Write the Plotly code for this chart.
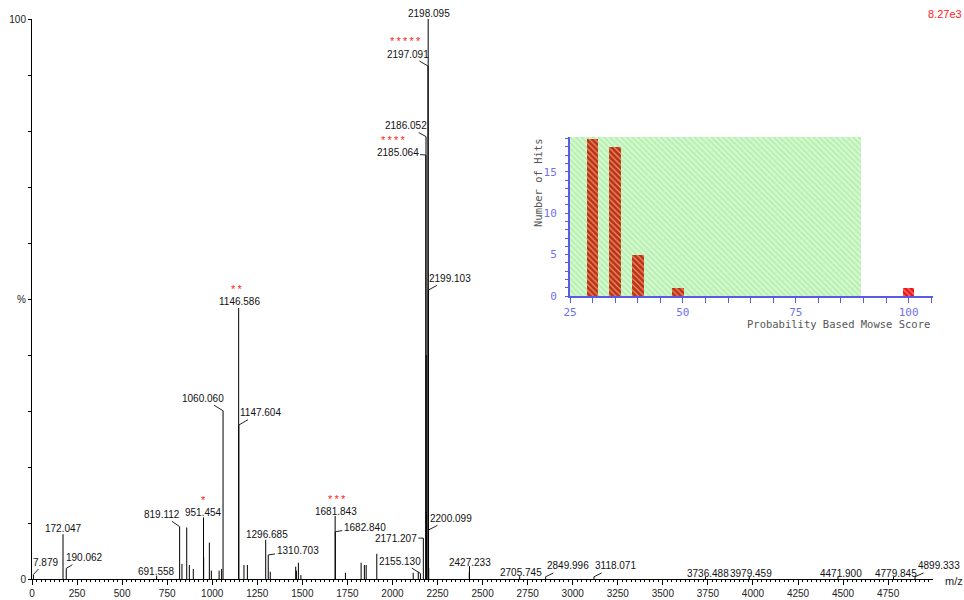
import plotly.graph_objects as go

# ---------------- main spectrum data (m/z, relative intensity %) ----------------
peak_mz = [7.879, 172.047, 190.062, 691.558, 819.112, 832.0, 858.5, 873.0, 895.0,
           951.454, 952.45, 984.0, 995.0, 1038.0, 1052.0, 1060.060,
           1146.586, 1147.604, 1176.0, 1195.0, 1296.685, 1310.703, 1322.0,
           1463.0, 1467.0, 1478.0, 1492.0, 1681.843, 1682.840, 1739.0,
           1826.0, 1844.0, 1854.0, 1913.0, 2115.0, 2143.0, 2155.130, 2171.207,
           2185.064, 2186.052, 2187.05, 2188.06, 2197.091, 2198.095, 2199.103,
           2200.099, 2201.1, 2426.2, 2427.233, 2705.745, 2849.996, 3118.071,
           3736.488, 3979.459, 4471.900, 4779.845, 4899.333]
peak_int = [0.8, 8.0, 1.9, 0.6, 9.35, 2.7, 9.2, 2.5, 1.8,
            11.0, 3.9, 6.5, 1.5, 1.5, 1.8, 30.05,
            48.4, 27.5, 2.5, 2.5, 7.0, 4.3, 1.3,
            2.2, 1.5, 2.9, 0.7, 11.25, 8.45, 1.1,
            2.9, 2.5, 2.5, 4.5, 1.1, 1.3, 1.0, 7.3,
            75.7, 79.0, 40.0, 12.0, 91.6, 100.0, 51.6,
            8.75, 2.0, 1.2, 2.3, 0.5, 0.4, 0.4,
            0.4, 0.4, 0.4, 0.4, 0.4]

# labelled peaks
label_mz = [7.879, 172.047, 190.062, 691.558, 819.112, 951.454, 1060.060, 1146.586,
            1147.604, 1296.685, 1310.703, 1681.843, 1682.840, 2155.130, 2171.207,
            2185.064, 2186.052, 2197.091, 2198.095, 2199.103, 2200.099, 2427.233,
            2705.745, 2849.996, 3118.071, 3736.488, 3979.459, 4471.900, 4779.845,
            4899.333]
# matched-peptide marks
star_mz = [951.454, 1146.586, 1681.843, 2185.064, 2197.091]
star_count = [1, 2, 3, 4, 5]
base_peak_counts = "8.27e3"

# y tick labels
y_tickvals = [0, 10, 20, 30, 40, 50, 60, 70, 80, 90, 100]
y_ticktext = ["0", "", "", "", "", "%", "", "", "", "", "100"]

# ---------------- inset histogram data ----------------
score_bins = [30, 35, 40, 49, 100]
hits = [19, 18, 5, 1, 1]
insig_limit = [25, 89.5]     # shaded (non-significant) score range
inset_ymax = 19.2
inset_ticks = [25, 30, 35, 40, 45, 50, 55, 60, 65, 70, 75, 80, 85, 90, 95, 100, 105]
inset_ticktext = ["25", "", "", "", "", "50", "", "", "", "", "75", "", "", "", "", "100", ""]
inset_yticks = list(range(0, 20))
inset_yticktext = [str(v) if v % 5 == 0 else "" for v in inset_yticks]

# ---------------- style: label offsets (px) ----------------
label_style = {
    7.879: (11.6, -12.5, True), 172.047: (0, -6, False), 190.062: (18, -10.6, True),
    691.558: (0, -4.6, False), 819.112: (-17.9, -12.4, True), 951.454: (0, -5, False),
    1060.060: (-20.5, -12.4, True), 1146.586: (0.4, -6.3, False),
    1147.604: (21.2, -12.3, True), 1296.685: (1, -5.7, False),
    1310.703: (29.3, -4, True), 1681.843: (0.7, -4.3, False),
    1682.840: (29.4, -4.4, True), 2155.130: (-20, -12.3, True),
    2171.207: (-27.5, 0, True), 2185.064: (-28.2, -2.7, True),
    2186.052: (-20, -11, True), 2197.091: (-20.4, -12, True),
    2198.095: (1, -6, False), 2199.103: (21.7, -11.7, True),
    2200.099: (22.3, -11.7, True), 2427.233: (1, -3.3, False),
    2705.745: (1.2, -3.5, False), 2849.996: (21.9, -10.8, True),
    3118.071: (21.9, -10.8, True), 3736.488: (2.2, -3.7, False),
    3979.459: (1.7, -3.7, False), 4471.900: (2.7, -3.7, False),
    4779.845: (2.5, -3.7, False), 4899.333: (24.3, -10.8, True),
}
star_style = {951.454: (0.3, -17.6), 1146.586: (-1.9, -18.9), 1681.843: (1.6, -16.9),
              2185.064: (-33.2, -15.3), 2197.091: (-22.9, -24.6)}

FONT = "Liberation Sans, Arial, sans-serif"
MONO = "DejaVu Sans Mono, monospace"
BLUE = "#5a5ae6"
BLUE_T = "#7070f0"

xs, ys = [], []
for m, h in zip(peak_mz, peak_int):
    xs += [m, m, None]
    ys += [0, h, None]

fig = go.Figure()
fig.add_trace(go.Scatter(x=xs, y=ys, mode="lines", line=dict(color="black", width=1),
                         hoverinfo="skip", showlegend=False))

# inset: shaded region
fig.add_trace(go.Bar(x=[(insig_limit[0] + insig_limit[1]) / 2], y=[inset_ymax],
                     width=[insig_limit[1] - insig_limit[0]],
                     marker=dict(color="#d6f8d0", line=dict(width=0),
                                 pattern=dict(shape="\\", fgcolor="#8ee68a", size=4,
                                              solidity=0.45, fillmode="overlay")),
                     xaxis="x2", yaxis="y2", showlegend=False, hoverinfo="skip"))
inside = [s < insig_limit[1] for s in score_bins]
bar_colors = ["#c0300a" if i else "#ee1111" for i in inside]
pat_colors = ["#7a4212" if i else "#ee1111" for i in inside]
fig.add_trace(go.Bar(x=score_bins, y=hits, width=2.6,
                     marker=dict(color=bar_colors, line=dict(width=0),
                                 pattern=dict(shape="\\", fgcolor=pat_colors, size=4,
                                              solidity=0.3, fillmode="overlay")),
                     xaxis="x2", yaxis="y2", showlegend=False, hoverinfo="skip"))

ann = []
pk = dict(zip(peak_mz, peak_int))
for m in label_mz:
    dx, dy, arrow = label_style[m]
    h = pk[m]
    if arrow:
        ann.append(dict(x=m, y=h, xref="x", yref="y", text=f"{m:.3f}", showarrow=True,
                        ax=dx, ay=dy, arrowhead=0, arrowwidth=1, arrowcolor="#222",
                        standoff=0, font=dict(family=FONT, size=10, color="#111")))
    else:
        ann.append(dict(x=m, y=h, xref="x", yref="y", text=f"{m:.3f}", showarrow=False,
                        xshift=dx, yshift=-dy, xanchor="center", yanchor="middle",
                        font=dict(family=FONT, size=10, color="#111")))
for m, n in zip(star_mz, star_count):
    dx, dy = star_style[m]
    ann.append(dict(x=m, y=pk[m], xref="x", yref="y", text="\u2009".join(["*"] * n),
                    showarrow=False, xshift=dx, yshift=-dy, xanchor="center",
                    yanchor="middle", font=dict(family=FONT, size=11, color="#ff2020")))

W = 901.0
ann.append(dict(x=(945 - 32) / W, y=(579 - 14) / 560, xref="paper", yref="paper",
                text=base_peak_counts, showarrow=False, xanchor="center", yanchor="middle",
                font=dict(family=FONT, size=11, color="#ff2020")))
ann.append(dict(x=(943 - 32) / W, y=-2 / 560, xref="paper", yref="paper", text="m/z",
                showarrow=False, xanchor="left", yanchor="middle",
                font=dict(family=FONT, size=11, color="#222")))
ann.append(dict(x=(538 - 32) / W, y=(579 - 183) / 560, xref="paper", yref="paper",
                text="Number of Hits", showarrow=False, textangle=-90,
                xanchor="center", yanchor="middle",
                font=dict(family=MONO, size=10.5, color="#555")))
ann.append(dict(x=(932 - 32) / W, y=(579 - 324) / 560, xref="paper", yref="paper",
                text="Probability Based Mowse Score", showarrow=False,
                xanchor="right", yanchor="middle",
                font=dict(family=MONO, size=10.5, color="#555")))

fig.update_layout(
    width=964, height=600, autosize=False,
    margin=dict(l=32, r=31, t=19, b=21, pad=0),
    paper_bgcolor="white", plot_bgcolor="rgba(0,0,0,0)",
    barmode="overlay", bargap=0,
    annotations=ann,
    xaxis=dict(range=[0, 4999], domain=[0, 1], showline=True, linecolor="black",
               linewidth=1, ticks="outside", ticklen=5, tickcolor="black",
               tick0=0, dtick=250, showgrid=False, zeroline=False, automargin=False,
               tickfont=dict(family=FONT, size=10, color="#222"),
               minor=dict(dtick=25, ticklen=2, ticks="outside", tickcolor="black")),
    yaxis=dict(range=[0, 100], domain=[0, 1], showline=True, linecolor="black",
               linewidth=1, ticks="outside", ticklen=3, tickcolor="black",
               tickvals=y_tickvals, ticktext=y_ticktext, showgrid=False,
               zeroline=False, automargin=False,
               tickfont=dict(family=FONT, size=10, color="#222")),
    xaxis2=dict(domain=[(570 - 32) / W, 1.0], anchor="y2", range=[25, 105.4],
                showline=True, linecolor=BLUE, linewidth=2, ticks="outside",
                ticklen=5, tickcolor=BLUE, tickvals=inset_ticks, ticktext=inset_ticktext,
                showgrid=False, zeroline=False, automargin=False,
                tickfont=dict(family=MONO, size=11, color=BLUE_T)),
    yaxis2=dict(domain=[(579 - 296) / 560, (579 - 137) / 560], anchor="x2",
                range=[0, inset_ymax], showline=True, linecolor=BLUE, linewidth=2,
                ticks="outside", ticklen=3, tickcolor=BLUE, tickvals=inset_yticks,
                ticktext=inset_yticktext, showgrid=False, zeroline=False,
                ticklabelstandoff=6, automargin=False,
                tickfont=dict(family=MONO, size=11, color=BLUE_T)),
)

fig.write_html("out.html")
